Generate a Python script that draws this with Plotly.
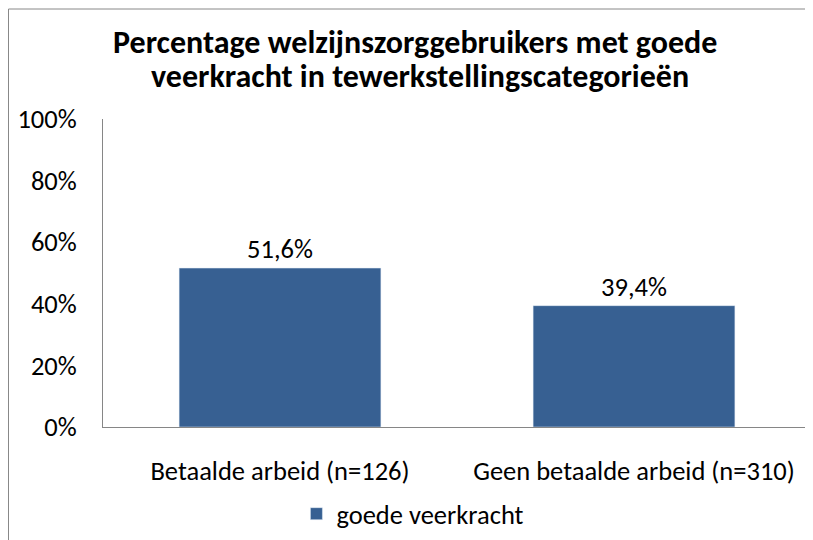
import plotly.graph_objects as go

categories = ["Betaalde arbeid (n=126)", "Geen betaalde arbeid (n=310)"]
values = [0.516, 0.394]
series_name = "goede veerkracht"
title_lines = ["Percentage welzijnszorggebruikers met goede",
               "veerkracht in tewerkstellingscategorieën"]

FONT = "Carlito, Lato, sans-serif"
FS = 26.5

fig = go.Figure()
fig.add_trace(go.Bar(
    x=categories, y=values, name=series_name,
    marker=dict(color="#376092"),
    texttemplate="%{y:.1%}", textposition="outside",
    textfont=dict(size=FS, color="black", family=FONT),
    cliponaxis=False,
))

annotations = [
    dict(text="<b>" + title_lines[0] + "</b>", xref="paper", yref="paper",
         x=0.4407, y=1.2468, xanchor="center", yanchor="middle", showarrow=False,
         font=dict(size=32, family=FONT, color="black")),
    dict(text="<b>" + title_lines[1] + "</b>", xref="paper", yref="paper",
         x=0.4477, y=1.1364, xanchor="center", yanchor="middle", showarrow=False,
         font=dict(size=32, family=FONT, color="black")),
]

fig.update_layout(
    width=805, height=532,
    separators=",.",
    font=dict(family=FONT, color="black", size=FS),
    paper_bgcolor="white", plot_bgcolor="white",
    margin=dict(l=95, r=2, t=111, b=113),
    bargap=0.43,
    annotations=annotations,
    showlegend=True,
    legend=dict(orientation="h", x=0.503, xanchor="center", xref="container",
                y=0.049, yanchor="middle", yref="container",
                font=dict(size=FS, family=FONT)),
    xaxis=dict(showline=True, linecolor="#868686", linewidth=1, ticks="",
               ticklabelstandoff=20, tickfont=dict(size=FS)),
    yaxis=dict(range=[0, 1], dtick=0.2, tickformat=".0%", showline=True,
               linecolor="#868686", linewidth=1, showgrid=False, ticks="",
               zeroline=False, ticklabelstandoff=20, tickfont=dict(size=FS)),
    shapes=[dict(type="rect", xref="paper", yref="paper",
                 x0=(0.5 - 95) / 708, x1=1.2, y0=-0.5, y1=(419 - 1) / 308,
                 line=dict(color="#888888", width=1), fillcolor="rgba(0,0,0,0)",
                 layer="below")],
)

fig.write_html("out.html")
